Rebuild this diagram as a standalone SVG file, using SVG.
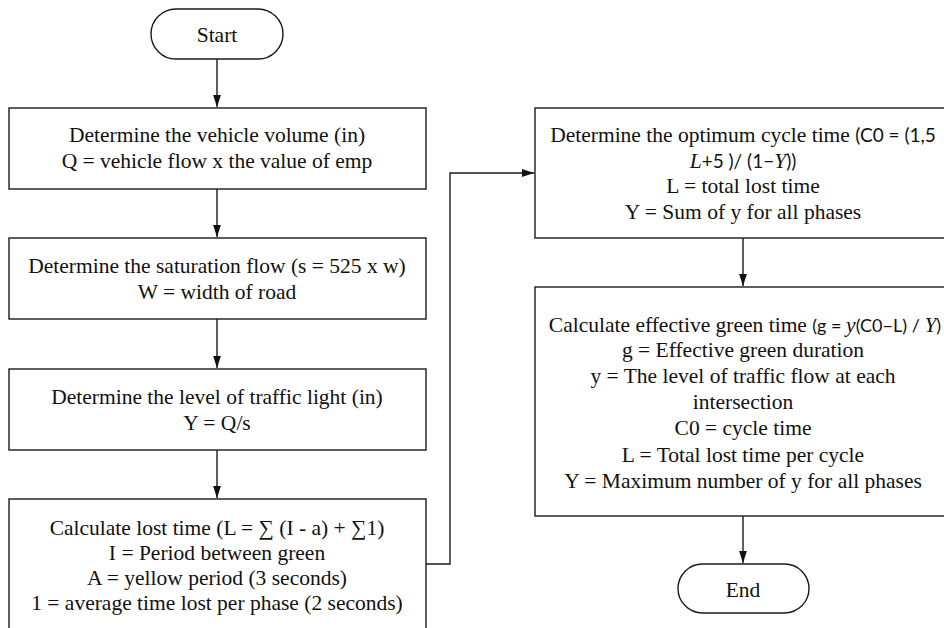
<svg xmlns="http://www.w3.org/2000/svg" width="944" height="628" viewBox="0 0 944 628">
<defs>
<style>
.box{fill:#fff;stroke:#1a1a1a;stroke-width:1.4}
.t{font-family:"Liberation Serif","Times New Roman",serif;font-size:21.5px;fill:#111;text-anchor:middle}
.s{font-family:Lato,"Noto Sans",sans-serif;font-size:19px}
.s2{font-family:Lato,"Noto Sans",sans-serif;font-size:18px}
.i{font-family:"Liberation Serif",serif;font-style:italic}
.c{fill:none;stroke:#1a1a1a;stroke-width:1.4}
</style>
<marker id="ah" markerUnits="userSpaceOnUse" markerWidth="12" markerHeight="18" refX="17" refY="5.5" orient="auto" viewBox="0 0 17 11">
<path d="M0,0 L17,5.5 L0,11 Z" fill="#111"/>
</marker>
</defs>
<rect width="944" height="628" fill="#fff"/>
<g id="connectors">
<path class="c" d="M217,59 V107" marker-end="url(#ah)"/>
<path class="c" d="M217,189 V237" marker-end="url(#ah)"/>
<path class="c" d="M217,319 V368" marker-end="url(#ah)"/>
<path class="c" d="M217,450 V498" marker-end="url(#ah)"/>
<path class="c" d="M426,564 H450 V173 H534" marker-end="url(#ah)"/>
<path class="c" d="M743,238 V286" marker-end="url(#ah)"/>
<path class="c" d="M743,516 V563" marker-end="url(#ah)"/>
</g>
<g id="start">
<rect class="box" x="151" y="9" width="132" height="50" rx="25" ry="25"/>
<text class="t" x="217" y="41.5">Start</text>
</g>
<g id="volume">
<rect class="box" x="9" y="108" width="417" height="81"/>
<text class="t" x="217" y="142">Determine the vehicle volume (in)</text>
<text class="t" x="217" y="168">Q = vehicle flow x the value of emp</text>
</g>
<g id="saturation">
<rect class="box" x="9" y="238" width="417" height="81"/>
<text class="t" x="217" y="273">Determine the saturation flow (s = 525 x w)</text>
<text class="t" x="217" y="299">W = width of road</text>
</g>
<g id="level">
<rect class="box" x="9" y="369" width="417" height="81"/>
<text class="t" x="217" y="404">Determine the level of traffic light (in)</text>
<text class="t" x="217" y="430">Y = Q/s</text>
</g>
<g id="losttime">
<rect class="box" x="9" y="499" width="417" height="140"/>
<text class="t" x="217" y="535">Calculate lost time (L = ∑ (I - a) + ∑1)</text>
<text class="t" x="217" y="560">I = Period between green</text>
<text class="t" x="217" y="585">A = yellow period (3 seconds)</text>
<text class="t" x="217" y="610">1 = average time lost per phase (2 seconds)</text>
</g>
<g id="cycle">
<rect class="box" x="535" y="108" width="416" height="130"/>
<text class="t" x="743" y="142">Determine the optimum cycle time <tspan class="s">(C0 = (1,5</tspan></text>
<text class="t" x="743" y="168"><tspan class="i">L</tspan><tspan class="s">+5 )/ (1−</tspan><tspan class="i">Y</tspan><tspan class="s">))</tspan></text>
<text class="t" x="743" y="193">L = total lost time</text>
<text class="t" x="743" y="219">Y = Sum of y for all phases</text>
</g>
<g id="green">
<rect class="box" x="535" y="287" width="416" height="229"/>
<text class="t" x="745" y="331.5">Calculate effective green time <tspan class="s2">(g = </tspan><tspan class="i">y</tspan><tspan class="s2">(C0−L) / </tspan><tspan class="i">Y</tspan><tspan class="s2">)</tspan></text>
<text class="t" x="743" y="357">g = Effective green duration</text>
<text class="t" x="743" y="383">y = The level of traffic flow at each</text>
<text class="t" x="743" y="409">intersection</text>
<text class="t" x="743" y="435">C0 = cycle time</text>
<text class="t" x="743" y="462">L = Total lost time per cycle</text>
<text class="t" x="743" y="488">Y = Maximum number of y for all phases</text>
</g>
<g id="end">
<rect class="box" x="678" y="564" width="131" height="49" rx="24.5" ry="24.5"/>
<text class="t" x="743" y="597">End</text>
</g>
</svg>
